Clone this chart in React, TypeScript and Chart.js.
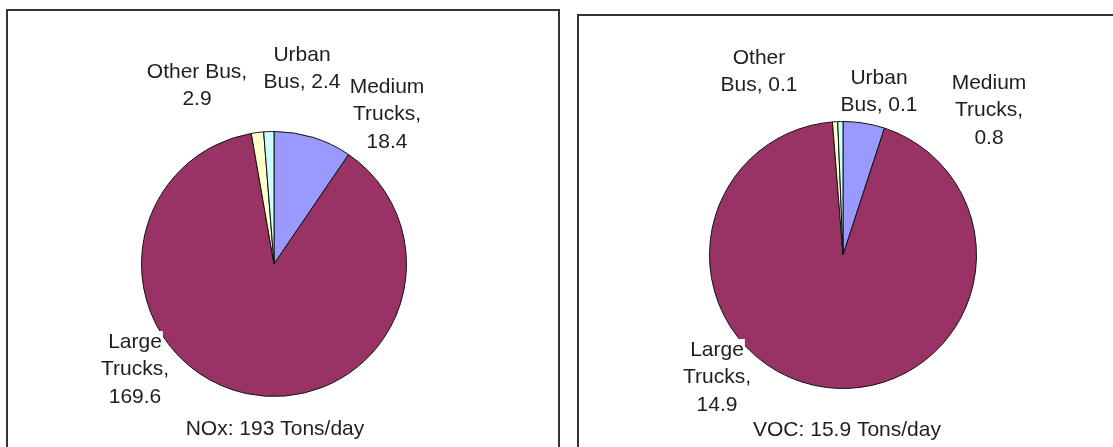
import React, { useEffect, useRef } from "react";
import { Chart, registerables } from "chart.js";

Chart.register(...registerables);

// ---- data ----
const categories = ["Medium Trucks", "Large Trucks", "Other Bus", "Urban Bus"];
const noxValues = [18.4, 169.6, 2.9, 2.4];
const vocValues = [0.8, 14.9, 0.1, 0.1];
const noxTitle = "NOx: 193 Tons/day";
const vocTitle = "VOC: 15.9 Tons/day";

// ---- styles / layout ----
const sliceColors = ["#9999FF", "#993366", "#FFFFCC", "#CCFFFF"];
const FONT = '"Liberation Sans", Arial, sans-serif';
const FONT_SIZE = 21;
const LINE_H = 27.5;
const TEXT_COLOR = "#1e1e1e";

type LabelLayout = { dx: number; dy: number; breaks: number[] };

const noxLabelLayout: LabelLayout[] = [
  { dx: 113, dy: -177, breaks: [1, 2] },
  { dx: -139, dy: 78, breaks: [1, 2] },
  { dx: -77, dy: -192, breaks: [2] },
  { dx: 28, dy: -209, breaks: [1] },
];
const vocLabelLayout: LabelLayout[] = [
  { dx: 146, dy: -172, breaks: [1, 2] },
  { dx: -126, dy: 95, breaks: [1, 2] },
  { dx: -84, dy: -197, breaks: [1] },
  { dx: 36, dy: -177, breaks: [1] },
];

const labelPlugin = {
  id: "pieLabels",
  afterDraw(chart: any, _args: any, opts: any) {
    const meta = chart.getDatasetMeta(0);
    const arc = meta.data[0];
    if (!arc) return;
    const cx = arc.x;
    const cy = arc.y;
    const values: number[] = chart.data.datasets[0].data;
    const ctx = chart.ctx as CanvasRenderingContext2D;
    ctx.save();
    ctx.font = `${FONT_SIZE}px ${FONT}`;
    ctx.textAlign = "center";
    ctx.textBaseline = "middle";
    const items: { text: string; x: number; y: number }[] = [];
    (opts.layout as LabelLayout[]).forEach((lay, i) => {
      const words = `${chart.data.labels[i]}, ${values[i]}`.split(" ");
      const cuts = [0, ...lay.breaks, words.length];
      for (let k = 0; k < cuts.length - 1; k++) {
        const line = words.slice(cuts[k], cuts[k + 1]).join(" ");
        items.push({ text: line, x: cx + lay.dx, y: cy + lay.dy + k * LINE_H });
      }
    });
    ctx.fillStyle = "#ffffff";
    items.forEach((it) => {
      const w = ctx.measureText(it.text).width;
      ctx.fillRect(it.x - w / 2 - 1, it.y - 11, w + 2, 22);
    });
    ctx.fillStyle = TEXT_COLOR;
    items.forEach((it) => ctx.fillText(it.text, it.x, it.y));
    ctx.fillText(opts.title, cx + opts.titleDx, cy + opts.titleDy);
    ctx.restore();
  },
};

function PieChart(props: {
  values: number[];
  layout: LabelLayout[];
  title: string;
  titleDx: number;
  titleDy: number;
  padding: { left: number; top: number; right: number; bottom: number };
  width: number;
  height: number;
  left: number;
}) {
  const ref = useRef<HTMLCanvasElement | null>(null);
  useEffect(() => {
    if (!ref.current) return;
    const chart = new Chart(ref.current, {
      type: "pie",
      data: {
        labels: categories,
        datasets: [
          {
            data: props.values,
            backgroundColor: sliceColors,
            borderColor: "#111111",
            borderWidth: 1,
            hoverOffset: 0,
          },
        ],
      },
      options: {
        animation: false,
        responsive: false,
        devicePixelRatio: 1,
        layout: { padding: props.padding },
        plugins: {
          legend: { display: false },
          tooltip: { enabled: false },
          pieLabels: {
            layout: props.layout,
            title: props.title,
            titleDx: props.titleDx,
            titleDy: props.titleDy,
          },
        } as any,
      },
      plugins: [labelPlugin],
    });
    return () => chart.destroy();
  }, []);
  return (
    <canvas
      ref={ref}
      width={props.width}
      height={props.height}
      style={{
        position: "absolute",
        left: props.left,
        top: 0,
        width: props.width,
        height: props.height,
      }}
    />
  );
}

export default function App() {
  return (
    <div
      style={{
        position: "fixed",
        left: 0,
        top: 0,
        width: 1113,
        height: 447,
        overflow: "hidden",
        background: "#ffffff",
      }}
    >
      <div
        style={{
          position: "absolute",
          left: 6,
          top: 9,
          width: 554,
          height: 480,
          border: "2px solid #333333",
          boxSizing: "border-box",
        }}
      />
      <div
        style={{
          position: "absolute",
          left: 577,
          top: 14,
          width: 600,
          height: 480,
          border: "2px solid #333333",
          boxSizing: "border-box",
        }}
      />
      <PieChart
        values={noxValues}
        layout={noxLabelLayout}
        title={noxTitle}
        titleDx={1}
        titleDy={165}
        padding={{ left: 141, top: 131, right: 153, bottom: 50 }}
        width={560}
        height={447}
        left={0}
      />
      <PieChart
        values={vocValues}
        layout={vocLabelLayout}
        title={vocTitle}
        titleDx={4}
        titleDy={175}
        padding={{ left: 144, top: 121, right: 136, bottom: 58 }}
        width={548}
        height={447}
        left={565}
      />
    </div>
  );
}
